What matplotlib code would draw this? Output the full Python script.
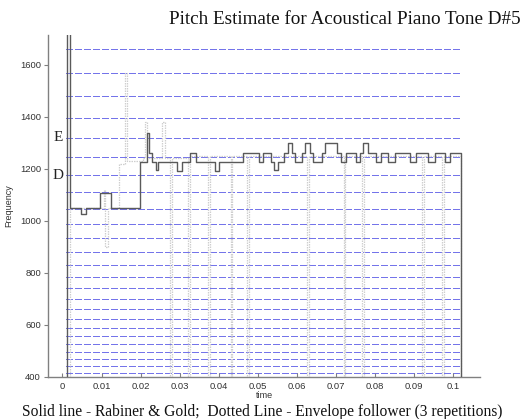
import matplotlib
matplotlib.use("Agg")
import matplotlib.pyplot as plt

# ---- data ----
# Rabiner & Gold pitch estimate (step function: change times and levels)
rg_time = [0.0, 0.0011, 0.0019, 0.0047, 0.0060, 0.0095, 0.0124, 0.0198, 0.0215, 0.0222,
           0.0229, 0.0238, 0.0244, 0.0293, 0.0306, 0.0326, 0.0341, 0.0390, 0.0401, 0.0461,
           0.0503, 0.0513, 0.0533, 0.0541, 0.0551, 0.0567, 0.0577, 0.0587, 0.0595, 0.0613,
           0.0620, 0.0633, 0.0641, 0.0664, 0.0672, 0.0702, 0.0712, 0.0725, 0.0751, 0.0761,
           0.0769, 0.0782, 0.0802, 0.0815, 0.0833, 0.0851, 0.0889, 0.0905, 0.0935, 0.0953,
           0.0979, 0.0992, 0.1020, 0.1068]
rg_freq = [0, 3000, 1048, 1026, 1048, 1105, 1048, 1227, 1339, 1261,
           1227, 1195, 1227, 1193, 1227, 1260, 1227, 1193, 1227, 1260,
           1227, 1260, 1227, 1195, 1227, 1260, 1298, 1260, 1227, 1260,
           1298, 1260, 1227, 1260, 1298, 1260, 1227, 1260, 1227, 1260,
           1298, 1260, 1227, 1260, 1227, 1260, 1227, 1260, 1227, 1260,
           1227, 1260, 0, 0]

# Envelope follower (3 repetitions) estimate
env_time = [0.0, 0.0019, 0.0105, 0.0110, 0.0116, 0.0145, 0.0160, 0.0166, 0.0205, 0.0210,
            0.0216, 0.0255, 0.0261, 0.0276, 0.0280, 0.0322, 0.0326, 0.0373, 0.0377, 0.0430,
            0.0434, 0.0473, 0.0477, 0.0626, 0.0630, 0.0719, 0.0723, 0.0767, 0.0771, 0.0920,
            0.0924, 0.0971, 0.0975, 0.1020, 0.1068]
env_freq = [0, 1050, 1118, 900, 1050, 1220, 1570, 1230, 1240, 1381,
            1240, 1381, 1240, 0, 1240, 0, 1250, 0, 1250, 0,
            1250, 0, 1250, 0, 1250, 0, 1250, 0, 1250, 0,
            1250, 0, 1250, 0, 0]

# semitone reference lines G#4 ... G#6 (Hz)
note_freqs = [415.3, 440.0, 466.2, 493.9, 523.3, 554.4, 587.3, 622.3, 659.3, 698.5,
              740.0, 784.0, 830.6, 880.0, 932.3, 987.8, 1046.5, 1108.7, 1174.7, 1244.5,
              1318.5, 1396.9, 1480.0, 1568.0, 1661.2]
note_labels = {"E": 1318.5, "D": 1174.7}

xticks = [0, 0.01, 0.02, 0.03, 0.04, 0.05, 0.06, 0.07, 0.08, 0.09, 0.1]
xticklabels = ["0", "0.01", "0.02", "0.03", "0.04", "0.05", "0.06", "0.07", "0.08", "0.09", "0.1"]
yticks = [400, 600, 800, 1000, 1200, 1400, 1600]

title = "Pitch Estimate for Acoustical Piano Tone D#5"
caption = "Solid line - Rabiner & Gold;  Dotted Line - Envelope follower (3 repetitions)"

# ---- figure ----
fig = plt.figure(figsize=(5.26, 4.19), dpi=100)
ax = fig.add_axes([48/526, 42.5/419, (480-48)/526, (376.5-35)/419])
ax.set_xlim(-0.0037, 0.1068)
ax.set_ylim(400, 1715)

for f in note_freqs:
    ax.plot([0.001, 0.1018], [f, f], color="#7474ea", lw=0.72, dashes=(6, 2.8),
            antialiased=False, zorder=1)

ax.plot(env_time, env_freq, drawstyle="steps-post", color="#cfcfcf", lw=0.9,
        dashes=(1.2, 0.8), zorder=2)
ax.plot(rg_time, rg_freq, drawstyle="steps-post", color="#5a5a5a", lw=1.0, zorder=3)

for lab, f in note_labels.items():
    ax.text(-0.0011, f, lab, family="Liberation Serif", fontsize=11,
            ha="center", va="center", color="#222222")

for s in ("top", "right"):
    ax.spines[s].set_visible(False)
for s in ("left", "bottom"):
    ax.spines[s].set_color("#808080")
    ax.spines[s].set_linewidth(1.0)

ax.set_xticks(xticks)
ax.set_xticklabels(xticklabels)
ax.set_yticks(yticks)
ax.tick_params(axis="both", labelsize=6.8, colors="#808080", labelcolor="#333333",
               length=3, width=0.8)
ax.tick_params(axis="x", direction="in", pad=4)
ax.tick_params(axis="y", direction="out", pad=2)
for lbl in ax.get_xticklabels() + ax.get_yticklabels():
    lbl.set_family("Liberation Sans")

ax.set_xlabel("time", fontsize=6.5, family="Liberation Sans", labelpad=0, color="#333333")
ax.set_ylabel("Frequency", fontsize=6.5, family="Liberation Sans", labelpad=5, color="#333333")

fig.text(345/526, 1 - 20/419, title, family="Liberation Serif", fontsize=13.8,
         ha="center", va="center", color="#111111")
fig.text(262/526, 1 - 411.5/419, caption, family="Liberation Serif", fontsize=11.2,
         ha="center", va="center", color="#111111")

fig.savefig("out.png", dpi=100)
